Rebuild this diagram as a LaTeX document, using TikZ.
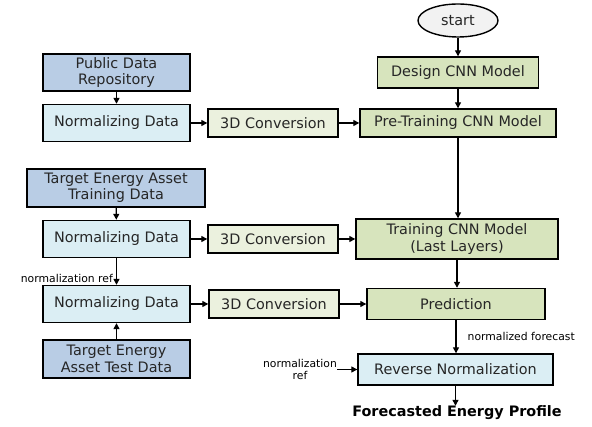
\documentclass[tikz,border=0pt]{standalone}
\usepackage{fontspec}
\setmainfont{DejaVu Sans}
\usetikzlibrary{arrows.meta,shapes.geometric}
\definecolor{srcblue}{HTML}{B9CDE5}
\definecolor{normblue}{HTML}{DBEEF4}
\definecolor{convbeige}{HTML}{EBF1DE}
\definecolor{cnngreen}{HTML}{D7E4BD}
\definecolor{startgray}{HTML}{F2F2F2}
\tikzset{
  base/.style={draw=black, line width=1.4pt, align=center, inner sep=0pt,
    font=\fontsize{14.4}{16.5}\selectfont, text=black!85},
  srcbox/.style={base, fill=srcblue},
  normbox/.style={base, fill=normblue},
  convbox/.style={base, fill=convbeige},
  cnnbox/.style={base, fill=cnngreen},
  startnode/.style={base, ellipse, fill=startgray},
  lbl/.style={font=\fontsize{10.8}{12.5}\selectfont, inner sep=0pt, align=center},
  arr/.style={draw=black, line width=1.3pt, -{Triangle[length=6pt,width=6pt]}}
}
\begin{document}
\begin{tikzpicture}[x=1pt,y=-1pt]
\useasboundingbox[fill=white] (0,0) rectangle (592,427);
% right column
\node[startnode, minimum width=80, minimum height=33] (start) at (458,20.5) {start};
\node[cnnbox, minimum width=161, minimum height=31] (design) at (458,72.5) {Design CNN Model};
\node[cnnbox, minimum width=196, minimum height=28] (pre) at (458,123) {Pre-Training CNN Model};
\node[cnnbox, minimum width=202, minimum height=40] (train) at (457,239) {Training CNN Model\\(Last Layers)};
\node[cnnbox, minimum width=178, minimum height=31] (pred) at (456,304) {Prediction};
\node[normbox, minimum width=195, minimum height=31] (rev) at (455.5,369.5) {Reverse Normalization};
\node[font=\bfseries\fontsize{14.4}{16.5}\selectfont, inner sep=0pt] (out) at (457,413) {Forecasted Energy Profile};
% left column
\node[srcbox, minimum width=147, minimum height=37] (pub) at (116.5,72.5) {Public Data\\Repository};
\node[normbox, minimum width=147, minimum height=37] (norm1) at (116.5,123) {Normalizing Data};
\node[srcbox, minimum width=178, minimum height=38] (tgt) at (116,188) {Target Energy Asset\\Training Data};
\node[normbox, minimum width=147, minimum height=37] (norm2) at (116.5,239) {Normalizing Data};
\node[normbox, minimum width=147, minimum height=37] (norm3) at (116.5,304) {Normalizing Data};
\node[srcbox, minimum width=147, minimum height=38] (test) at (116.5,359) {Target Energy\\Asset Test Data};
% conversions
\node[convbox, minimum width=130, minimum height=28] (conv1) at (273,123) {3D Conversion};
\node[convbox, minimum width=130, minimum height=28] (conv2) at (273,239) {3D Conversion};
\node[convbox, minimum width=130, minimum height=28] (conv3) at (274,304) {3D Conversion};
% labels
\node[lbl, anchor=east] (lref) at (113,278) {normalization ref};
\node[lbl] (rref) at (300,369.5) {normalization\\ref};
% connectors
\draw[arr] (start) -- (design);
\draw[arr] (design) -- (pre);
\draw[arr] (pre.south) -- (pre.south |- train.north);
\draw[arr] (train.south) -- (train.south |- pred.north);
\draw[arr] (pred.south) -- node[lbl, anchor=west, xshift=11pt] (nf) {normalized forecast} (pred.south |- rev.north);
\draw[arr] (rev.south) -- (rev.south |- out.north);
\draw[arr] (pub) -- (norm1);
\draw[arr] (tgt) -- (norm2);
\draw[arr] (norm2.south) -- (norm2.south |- norm3.north);
\draw[arr] (test) -- (norm3);
\draw[arr] (norm1) -- (conv1);
\draw[arr] (norm2) -- (conv2);
\draw[arr] (norm3) -- (conv3);
\draw[arr] (conv1) -- (pre);
\draw[arr] (conv2) -- (train);
\draw[arr] (conv3) -- (pred);
\draw[arr] (rref) -- (rev);
\end{tikzpicture}
\end{document}
